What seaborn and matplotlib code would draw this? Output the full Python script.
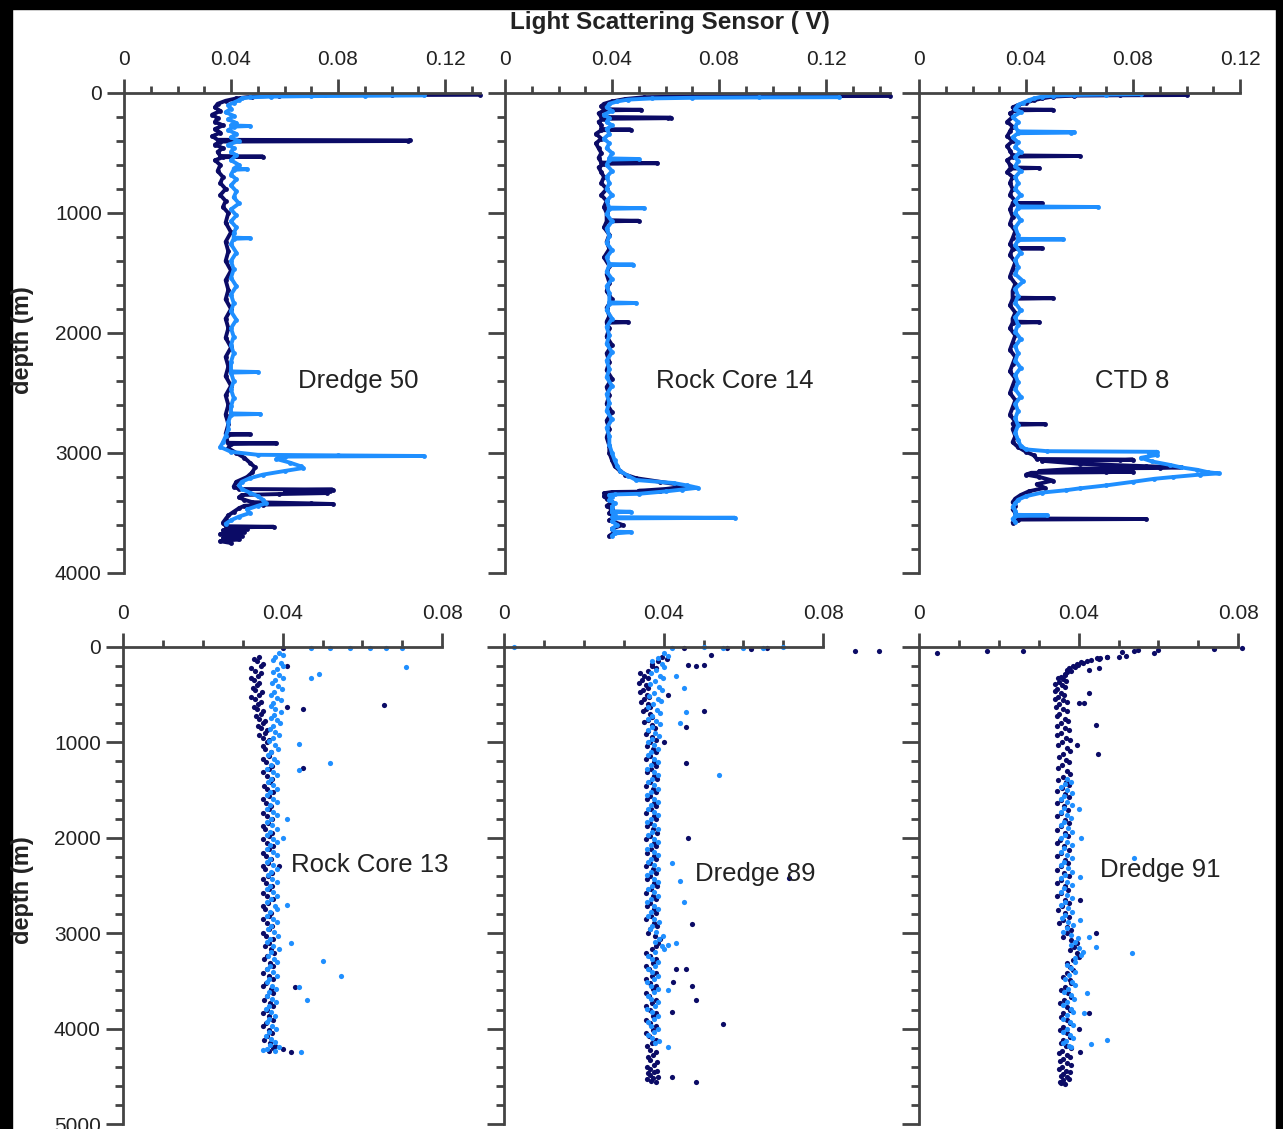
import numpy as np
import pandas as pd
import matplotlib.pyplot as plt
from matplotlib.patches import Rectangle
from matplotlib.ticker import MultipleLocator, FuncFormatter
import seaborn as sns

sns.set_theme(style='white')
plt.rcParams['font.family'] = ['Liberation Sans', 'DejaVu Sans']

DARK = '#0b0b66'
LIGHT = '#1f8fff'

# ---------------- top row: profiles (depth m, sensor V) ----------------
# Dredge 50
d50_dark_z = [15, 17, 19, 22, 30, 45, 65, 90, 120, 150, 180, 210, 240, 270, 300, 330, 360, 390, 395, 400, 405,
              430, 460, 490, 525, 530, 535, 560, 600, 650, 700, 750, 800, 850, 900, 950, 1000, 1080, 1160, 1240,
              1320, 1400, 1480, 1560, 1640, 1720, 1800, 1880, 1960, 2040, 2120, 2200, 2280, 2360, 2440, 2520,
              2600, 2680, 2760, 2840, 2845, 2850, 2880, 2915, 2920, 2925, 2960, 3000, 3040, 3080, 3120, 3160,
              3200, 3240, 3280, 3300, 3305, 3310, 3318, 3326, 3334, 3342, 3350, 3370, 3390, 3410, 3420, 3425,
              3430, 3440, 3460, 3490, 3520, 3550, 3580, 3610, 3615, 3620, 3630, 3645, 3660, 3675, 3690, 3705,
              3720, 3735, 3750]
d50_dark_v = [0.133, 0.100, 0.075, 0.058, 0.048, 0.042, 0.038, 0.035, 0.034, 0.036, 0.033, 0.035, 0.034, 0.037,
              0.034, 0.036, 0.033, 0.035, 0.107, 0.106, 0.036, 0.034, 0.037, 0.035, 0.036, 0.052, 0.037, 0.034,
              0.036, 0.035, 0.037, 0.036, 0.038, 0.036, 0.038, 0.037, 0.039, 0.038, 0.040, 0.038, 0.039, 0.038,
              0.040, 0.038, 0.039, 0.038, 0.040, 0.038, 0.039, 0.038, 0.040, 0.038, 0.039, 0.038, 0.040, 0.038,
              0.039, 0.038, 0.039, 0.038, 0.047, 0.039, 0.038, 0.039, 0.057, 0.040, 0.039, 0.042, 0.045, 0.047,
              0.049, 0.048, 0.046, 0.042, 0.041, 0.043, 0.078, 0.060, 0.077, 0.062, 0.076, 0.058, 0.044, 0.043,
              0.045, 0.048, 0.070, 0.078, 0.052, 0.045, 0.043, 0.041, 0.039, 0.038, 0.037, 0.038, 0.056, 0.040,
              0.046, 0.037, 0.045, 0.036, 0.044, 0.037, 0.043, 0.036, 0.040]
d50_light_z = [20, 23, 26, 30, 36, 45, 60, 80, 100, 130, 160, 190, 220, 250, 270, 275, 280, 310, 340, 370, 400,
               430, 460, 490, 520, 560, 600, 630, 635, 640, 680, 720, 770, 820, 870, 920, 970, 1020, 1070, 1120,
               1170, 1205, 1210, 1215, 1260, 1330, 1400, 1470, 1540, 1610, 1680, 1750, 1820, 1890, 1960, 2030,
               2100, 2170, 2240, 2320, 2325, 2330, 2400, 2470, 2540, 2610, 2670, 2675, 2680, 2740, 2800, 2860,
               2910, 2950, 2990, 3015, 3020, 3025, 3030, 3050, 3080, 3110, 3125, 3150, 3180, 3210, 3240, 3270,
               3300, 3330, 3360, 3390, 3420, 3440, 3470, 3500, 3530, 3560, 3590]
d50_light_v = [0.112, 0.090, 0.070, 0.055, 0.047, 0.044, 0.043, 0.041, 0.039, 0.040, 0.038, 0.041, 0.039, 0.042,
               0.040, 0.047, 0.041, 0.039, 0.042, 0.040, 0.043, 0.039, 0.041, 0.040, 0.042, 0.040, 0.043, 0.041,
               0.046, 0.041, 0.040, 0.042, 0.040, 0.042, 0.041, 0.043, 0.040, 0.042, 0.040, 0.042, 0.041, 0.041,
               0.047, 0.041, 0.040, 0.042, 0.040, 0.041, 0.040, 0.042, 0.040, 0.041, 0.040, 0.042, 0.040, 0.041,
               0.040, 0.041, 0.040, 0.040, 0.050, 0.040, 0.041, 0.040, 0.041, 0.040, 0.040, 0.051, 0.040, 0.039,
               0.039, 0.038, 0.037, 0.036, 0.040, 0.050, 0.080, 0.112, 0.060, 0.057, 0.062, 0.066, 0.067, 0.060,
               0.052, 0.047, 0.044, 0.043, 0.044, 0.047, 0.050, 0.052, 0.053, 0.050, 0.046, 0.047, 0.043, 0.040,
               0.038]

# Rock Core 14
rc14_dark_z = [25, 27, 29, 35, 50, 70, 90, 110, 135, 140, 145, 170, 200, 205, 210, 215, 240, 270, 300, 305, 310,
               340, 380, 420, 460, 500, 540, 580, 585, 590, 620, 660, 700, 750, 800, 850, 900, 950, 1000, 1060,
               1065, 1070, 1120, 1180, 1240, 1300, 1370, 1440, 1510, 1580, 1650, 1720, 1790, 1860, 1905, 1910,
               1915, 1960, 2030, 2100, 2170, 2240, 2310, 2380, 2450, 2520, 2590, 2660, 2730, 2800, 2870, 2940,
               3000, 3060, 3110, 3150, 3180, 3210, 3240, 3260, 3280, 3300, 3315, 3320, 3325, 3335, 3345, 3360,
               3380, 3410, 3440, 3470, 3500, 3530, 3560, 3600, 3630, 3660, 3690]
rc14_dark_v = [0.144, 0.100, 0.070, 0.052, 0.045, 0.040, 0.037, 0.036, 0.037, 0.051, 0.037, 0.035, 0.036, 0.062,
               0.061, 0.037, 0.035, 0.036, 0.036, 0.047, 0.036, 0.034, 0.036, 0.034, 0.035, 0.036, 0.035, 0.036,
               0.057, 0.037, 0.035, 0.036, 0.037, 0.036, 0.038, 0.036, 0.038, 0.037, 0.038, 0.038, 0.050, 0.038,
               0.037, 0.039, 0.038, 0.039, 0.037, 0.039, 0.038, 0.039, 0.038, 0.040, 0.038, 0.039, 0.038, 0.046,
               0.038, 0.039, 0.038, 0.040, 0.038, 0.039, 0.038, 0.040, 0.038, 0.039, 0.038, 0.040, 0.038, 0.039,
               0.038, 0.039, 0.039, 0.040, 0.041, 0.043, 0.045, 0.049, 0.058, 0.064, 0.067, 0.060, 0.050, 0.058,
               0.040, 0.037, 0.039, 0.037, 0.038, 0.040, 0.038, 0.040, 0.039, 0.041, 0.039, 0.044, 0.040, 0.041,
               0.039]
rc14_light_z = [35, 37, 40, 45, 55, 70, 90, 120, 150, 180, 210, 240, 270, 300, 340, 380, 420, 460, 500, 545, 550,
                555, 600, 650, 700, 750, 800, 850, 900, 955, 960, 965, 1010, 1070, 1130, 1190, 1250, 1310, 1370,
                1425, 1430, 1435, 1490, 1550, 1610, 1670, 1745, 1750, 1755, 1810, 1880, 1950, 2020, 2090, 2160,
                2230, 2300, 2370, 2440, 2510, 2580, 2650, 2720, 2790, 2860, 2930, 3000, 3060, 3110, 3150, 3190,
                3225, 3250, 3270, 3290, 3305, 3320, 3340, 3345, 3350, 3365, 3390, 3420, 3450, 3485, 3490, 3495,
                3520, 3535, 3540, 3545, 3570, 3600, 3630, 3655, 3660, 3670, 3690]
rc14_light_v = [0.125, 0.095, 0.070, 0.055, 0.046, 0.042, 0.039, 0.038, 0.040, 0.037, 0.039, 0.038, 0.040, 0.038,
                0.039, 0.037, 0.039, 0.038, 0.040, 0.039, 0.050, 0.039, 0.038, 0.040, 0.038, 0.039, 0.038, 0.040,
                0.038, 0.039, 0.052, 0.039, 0.038, 0.040, 0.038, 0.039, 0.038, 0.040, 0.038, 0.039, 0.048, 0.039,
                0.038, 0.040, 0.038, 0.039, 0.039, 0.049, 0.039, 0.038, 0.040, 0.038, 0.039, 0.038, 0.040, 0.038,
                0.039, 0.038, 0.040, 0.038, 0.039, 0.038, 0.040, 0.038, 0.039, 0.039, 0.040, 0.041, 0.042, 0.043,
                0.046, 0.049, 0.063, 0.068, 0.072, 0.066, 0.060, 0.050, 0.041, 0.039, 0.040, 0.039, 0.041, 0.040,
                0.040, 0.047, 0.040, 0.041, 0.040, 0.086, 0.041, 0.040, 0.042, 0.040, 0.041, 0.047, 0.041, 0.040]

# CTD 8
ctd8_dark_z = [17, 19, 22, 30, 45, 60, 80, 100, 120, 135, 140, 145, 170, 200, 240, 280, 320, 360, 400, 440, 480,
               520, 525, 530, 560, 600, 620, 625, 630, 660, 700, 750, 800, 850, 900, 915, 920, 925, 970, 1030,
               1090, 1150, 1210, 1260, 1290, 1295, 1300, 1350, 1410, 1470, 1530, 1590, 1650, 1705, 1710, 1715,
               1770, 1830, 1880, 1905, 1910, 1915, 1960, 2020, 2080, 2140, 2200, 2260, 2320, 2380, 2440, 2500,
               2560, 2620, 2680, 2740, 2755, 2760, 2765, 2800, 2860, 2910, 2950, 2990, 3020, 3050, 3055, 3060,
               3065, 3090, 3110, 3120, 3125, 3130, 3150, 3155, 3160, 3165, 3180, 3200, 3230, 3260, 3290, 3320,
               3350, 3380, 3410, 3440, 3470, 3500, 3530, 3545, 3550, 3555, 3570, 3580]
ctd8_dark_v = [0.100, 0.075, 0.058, 0.050, 0.046, 0.043, 0.040, 0.037, 0.035, 0.036, 0.050, 0.036, 0.034, 0.035,
               0.033, 0.035, 0.034, 0.033, 0.035, 0.033, 0.034, 0.035, 0.060, 0.035, 0.033, 0.034, 0.035, 0.045,
               0.034, 0.033, 0.035, 0.034, 0.035, 0.034, 0.036, 0.035, 0.046, 0.035, 0.034, 0.035, 0.034, 0.036,
               0.035, 0.034, 0.035, 0.046, 0.035, 0.034, 0.036, 0.035, 0.034, 0.036, 0.035, 0.035, 0.050, 0.035,
               0.034, 0.036, 0.035, 0.035, 0.045, 0.035, 0.034, 0.036, 0.035, 0.034, 0.036, 0.035, 0.034, 0.036,
               0.035, 0.034, 0.036, 0.035, 0.034, 0.036, 0.035, 0.047, 0.036, 0.035, 0.036, 0.035, 0.037, 0.040,
               0.043, 0.044, 0.080, 0.075, 0.046, 0.060, 0.085, 0.098, 0.090, 0.060, 0.045, 0.080, 0.070, 0.042,
               0.040, 0.045, 0.050, 0.044, 0.047, 0.041, 0.038, 0.036, 0.035, 0.036, 0.035, 0.036, 0.037, 0.036,
               0.085, 0.037, 0.036, 0.035]
ctd8_light_z = [10, 13, 16, 22, 30, 45, 60, 80, 100, 130, 160, 200, 240, 280, 320, 325, 330, 335, 370, 410, 450,
                490, 530, 570, 610, 650, 700, 750, 800, 850, 900, 945, 950, 955, 1000, 1060, 1120, 1180, 1215, 1220,
                1225, 1270, 1330, 1390, 1450, 1510, 1570, 1630, 1690, 1750, 1810, 1870, 1930, 1990, 2050, 2110,
                2170, 2230, 2290, 2350, 2410, 2470, 2530, 2590, 2650, 2710, 2770, 2830, 2890, 2940, 2970, 2985,
                2990, 3000, 3015, 3040, 3070, 3100, 3120, 3140, 3160, 3170, 3180, 3200, 3215, 3240, 3270, 3295,
                3310, 3330, 3360, 3390, 3420, 3450, 3480, 3515, 3520, 3525, 3550, 3575]
ctd8_light_v = [0.083, 0.070, 0.058, 0.050, 0.046, 0.043, 0.041, 0.039, 0.037, 0.036, 0.038, 0.035, 0.037, 0.036,
                0.037, 0.058, 0.057, 0.037, 0.035, 0.037, 0.036, 0.038, 0.036, 0.037, 0.036, 0.038, 0.036, 0.037,
                0.036, 0.038, 0.036, 0.037, 0.067, 0.037, 0.036, 0.038, 0.036, 0.037, 0.037, 0.054, 0.037, 0.036,
                0.038, 0.036, 0.037, 0.036, 0.039, 0.036, 0.037, 0.036, 0.038, 0.036, 0.037, 0.036, 0.038, 0.036,
                0.037, 0.036, 0.038, 0.036, 0.037, 0.036, 0.038, 0.036, 0.037, 0.036, 0.037, 0.036, 0.037, 0.038,
                0.040, 0.048, 0.089, 0.086, 0.089, 0.083, 0.087, 0.094, 0.098, 0.104, 0.108, 0.112, 0.105, 0.095,
                0.088, 0.080, 0.070, 0.060, 0.055, 0.046, 0.040, 0.037, 0.036, 0.035, 0.036, 0.036, 0.048, 0.036,
                0.035, 0.036]

# ---------------- bottom row: bottle/scan points ----------------
# Rock Core 13
rc13_dark_z = [100, 150, 200, 250, 300, 350, 400, 450, 500, 550, 600, 650, 700, 750, 800, 850, 900, 950, 1000,
               1070, 1140, 1210, 1280, 1350, 1420, 1490, 1560, 1630, 1700, 1770, 1840, 1910, 1980, 2050, 2120,
               2190, 2260, 2330, 2400, 2470, 2540, 2610, 2680, 2750, 2820, 2890, 2960, 3030, 3100, 3170, 3240,
               3310, 3380, 3450, 3520, 3590, 3660, 3730, 3800, 3870, 3940, 4010, 4080, 4150, 4200, 4230,
               10, 200, 610, 630, 650, 1270, 2300, 3560, 4215, 4250]
rc13_dark_v = [0.0340, 0.0335, 0.0345, 0.0330, 0.0338, 0.0328, 0.0335, 0.0330, 0.0340, 0.0332, 0.0338, 0.0335,
               0.0345, 0.0340, 0.0350, 0.0345, 0.0355, 0.0350, 0.0360, 0.0355, 0.0365, 0.0358, 0.0365, 0.0360,
               0.0368, 0.0360, 0.0365, 0.0358, 0.0366, 0.0360, 0.0364, 0.0357, 0.0365, 0.0360, 0.0367, 0.0358,
               0.0364, 0.0356, 0.0363, 0.0358, 0.0366, 0.0360, 0.0364, 0.0357, 0.0365, 0.0360, 0.0366, 0.0358,
               0.0365, 0.0372, 0.0362, 0.0368, 0.0360, 0.0366, 0.0358, 0.0370, 0.0362, 0.0368, 0.0360, 0.0367,
               0.0358, 0.0366, 0.0362, 0.0368, 0.0375, 0.0365,
               0.0400, 0.0410, 0.0655, 0.0410, 0.0450, 0.0450, 0.0390, 0.0430, 0.0400, 0.0420]
rc13_dark_z2 = [125, 175, 225, 275, 325, 375, 425, 475, 525, 575,
                625, 675, 725, 775, 825, 875, 925, 975, 1035, 1105,
                1175, 1245, 1315, 1385, 1455, 1525, 1595, 1665, 1735, 1805,
                1875, 1945, 2015, 2085, 2155, 2225, 2295, 2365, 2435, 2505,
                2575, 2645, 2715, 2785, 2855, 2925, 2995, 3065, 3135, 3205,
                3275, 3345, 3415, 3485, 3555, 3625, 3695, 3765, 3835, 3905,
                3975, 4045, 4115, 4180]
rc13_dark_v2 = [0.0328, 0.0350, 0.0322, 0.0345, 0.0320, 0.0342, 0.0325, 0.0348, 0.0322, 0.0345,
                0.0328, 0.0350, 0.0333, 0.0355, 0.0338, 0.0360, 0.0342, 0.0365, 0.0350, 0.0372,
                0.0352, 0.0374, 0.0351, 0.0373, 0.0353, 0.0375, 0.0350, 0.0372, 0.0352, 0.0374,
                0.0350, 0.0373, 0.0352, 0.0375, 0.0350, 0.0372, 0.0351, 0.0374, 0.0350, 0.0373,
                0.0352, 0.0375, 0.0350, 0.0372, 0.0352, 0.0374, 0.0351, 0.0376, 0.0355, 0.0378,
                0.0354, 0.0376, 0.0352, 0.0375, 0.0351, 0.0377, 0.0353, 0.0376, 0.0352, 0.0375,
                0.0350, 0.0374, 0.0353, 0.0380]
rc13_light_z = [60, 110, 170, 230, 290, 350, 410, 470, 530, 590, 650, 710, 770, 830, 890, 950, 1030, 1100, 1170,
                1240, 1310, 1380, 1450, 1520, 1590, 1660, 1730, 1800, 1870, 1940, 2010, 2080, 2150, 2220, 2290,
                2360, 2430, 2500, 2570, 2640, 2710, 2780, 2850, 2920, 2990, 3060, 3130, 3200, 3270, 3340, 3410,
                3480, 3550, 3620, 3690, 3760, 3830, 3900, 3970, 4040, 4110, 4170, 4210, 4240,
                8, 10, 6, 12, 9, 7, 210, 285, 325, 1015, 1215, 1290, 3290, 3450, 3700, 3560, 4250, 2700, 2000,
                1800, 3100]
rc13_light_v = [0.0390, 0.0380, 0.0395, 0.0385, 0.0392, 0.0380, 0.0388, 0.0378, 0.0385, 0.0375, 0.0382, 0.0378,
                0.0385, 0.0376, 0.0382, 0.0375, 0.0380, 0.0372, 0.0378, 0.0370, 0.0377, 0.0370, 0.0376, 0.0369,
                0.0375, 0.0368, 0.0376, 0.0370, 0.0374, 0.0368, 0.0376, 0.0369, 0.0375, 0.0368, 0.0376, 0.0370,
                0.0374, 0.0368, 0.0377, 0.0370, 0.0380, 0.0369, 0.0376, 0.0370, 0.0378, 0.0369, 0.0376, 0.0370,
                0.0378, 0.0368, 0.0375, 0.0367, 0.0374, 0.0366, 0.0373, 0.0365, 0.0372, 0.0366, 0.0373, 0.0365,
                0.0372, 0.0368, 0.0360, 0.0380,
                0.0470, 0.0520, 0.0570, 0.0620, 0.0660, 0.0700, 0.0710, 0.0490, 0.0470, 0.0440, 0.0520, 0.0440,
                0.0500, 0.0547, 0.0460, 0.0440, 0.0445, 0.0410, 0.0400, 0.0410, 0.0420]
rc13_light_z2 = [85, 140, 200, 260, 320, 380, 440, 500, 560, 620,
                 680, 740, 800, 860, 920, 990, 1065, 1135, 1205, 1275,
                 1345, 1415, 1485, 1555, 1625, 1695, 1765, 1835, 1905, 1975,
                 2045, 2115, 2185, 2255, 2325, 2395, 2465, 2535, 2605, 2675,
                 2745, 2815, 2885, 2955, 3025, 3095, 3165, 3235, 3305, 3375,
                 3445, 3515, 3585, 3655, 3725, 3795, 3865, 3935, 4005, 4075,
                 4140, 4195, 4225]
rc13_light_v2 = [0.0400, 0.0375, 0.0402, 0.0376, 0.0400, 0.0374, 0.0398, 0.0372, 0.0396, 0.0372,
                 0.0395, 0.0370, 0.0394, 0.0368, 0.0390, 0.0366, 0.0388, 0.0364, 0.0386, 0.0362,
                 0.0387, 0.0363, 0.0385, 0.0362, 0.0386, 0.0361, 0.0385, 0.0362, 0.0387, 0.0361,
                 0.0385, 0.0362, 0.0386, 0.0361, 0.0385, 0.0363, 0.0386, 0.0362, 0.0387, 0.0361,
                 0.0386, 0.0362, 0.0385, 0.0363, 0.0388, 0.0362, 0.0390, 0.0364, 0.0386, 0.0361,
                 0.0385, 0.0360, 0.0384, 0.0360, 0.0383, 0.0359, 0.0382, 0.0360, 0.0383, 0.0358,
                 0.0382, 0.0390, 0.0350]

# Dredge 89
d89_dark_z = [100, 150, 200, 250, 300, 350, 400, 450, 500, 550, 600, 650, 700, 760, 820, 880, 940, 1000, 1070,
              1140, 1210, 1280, 1350, 1420, 1490, 1560, 1630, 1700, 1770, 1840, 1910, 1980, 2050, 2120, 2190, 2260,
              2330, 2400, 2470, 2540, 2610, 2680, 2750, 2820, 2890, 2960, 3030, 3100, 3170, 3240, 3310, 3380,
              3450, 3520, 3590, 3660, 3730, 3800, 3870, 3940, 4010, 4080, 4150, 4220, 4280, 4330, 4380, 4420,
              4460, 4490, 4520, 4545,
              40, 40, 10, 15, 20, 12, 85, 190, 195, 190, 670, 840, 1215, 2000, 2420, 2900, 3375, 3380, 3510, 3550,
              3700, 3825, 3950, 4510, 4560, 500, 1000]
d89_dark_v = [0.0395, 0.0385, 0.0370, 0.0360, 0.0350, 0.0345, 0.0355, 0.0348, 0.0358, 0.0350, 0.0362, 0.0355,
              0.0365, 0.0360, 0.0370, 0.0362, 0.0372, 0.0365, 0.0374, 0.0366, 0.0375, 0.0368, 0.0376, 0.0367,
              0.0374, 0.0366, 0.0375, 0.0368, 0.0376, 0.0367, 0.0374, 0.0366, 0.0375, 0.0368, 0.0376, 0.0366,
              0.0374, 0.0367, 0.0375, 0.0368, 0.0374, 0.0366, 0.0375, 0.0368, 0.0376, 0.0367, 0.0378, 0.0385,
              0.0372, 0.0366, 0.0374, 0.0364, 0.0372, 0.0365, 0.0373, 0.0364, 0.0372, 0.0365, 0.0374, 0.0366,
              0.0373, 0.0364, 0.0372, 0.0365, 0.0374, 0.0366, 0.0375, 0.0367, 0.0376, 0.0366, 0.0374, 0.0368,
              0.0880, 0.0940, 0.0450, 0.0560, 0.0620, 0.0660, 0.0520, 0.0460, 0.0480, 0.0500, 0.0500, 0.0456,
              0.0456, 0.0460, 0.0715, 0.0470, 0.0430, 0.0456, 0.0424, 0.0470, 0.0480, 0.0420, 0.0550, 0.0420,
              0.0480, 0.0410, 0.0400]
d89_dark_z2 = [125, 175, 225, 275, 325, 375, 425, 475, 525, 575,
               625, 675, 730, 790, 850, 910, 970, 1035, 1105, 1175,
               1245, 1315, 1385, 1455, 1525, 1595, 1665, 1735, 1805, 1875,
               1945, 2015, 2085, 2155, 2225, 2295, 2365, 2435, 2505, 2575,
               2645, 2715, 2785, 2855, 2925, 2995, 3065, 3135, 3205, 3275,
               3345, 3415, 3485, 3555, 3625, 3695, 3765, 3835, 3905, 3975,
               4045, 4115, 4185, 4250, 4300, 4350, 4400, 4440, 4470, 4505,
               4530, 4555]
d89_dark_v2 = [0.0408, 0.0372, 0.0380, 0.0342, 0.0362, 0.0338, 0.0360, 0.0340, 0.0364, 0.0343,
               0.0366, 0.0348, 0.0372, 0.0352, 0.0378, 0.0355, 0.0380, 0.0358, 0.0382, 0.0357,
               0.0380, 0.0358, 0.0383, 0.0357, 0.0381, 0.0358, 0.0382, 0.0356, 0.0380, 0.0358,
               0.0383, 0.0357, 0.0381, 0.0358, 0.0382, 0.0356, 0.0380, 0.0358, 0.0383, 0.0357,
               0.0381, 0.0358, 0.0382, 0.0356, 0.0384, 0.0360, 0.0392, 0.0380, 0.0357, 0.0380,
               0.0356, 0.0381, 0.0357, 0.0380, 0.0356, 0.0382, 0.0357, 0.0380, 0.0356, 0.0381,
               0.0357, 0.0380, 0.0358, 0.0382, 0.0360, 0.0384, 0.0358, 0.0383, 0.0361, 0.0385,
               0.0359, 0.0380]
d89_light_z = [60, 120, 180, 240, 300, 360, 420, 480, 540, 600, 660, 720, 780, 840, 900, 960, 1030, 1100, 1170,
               1240, 1310, 1380, 1450, 1520, 1590, 1660, 1730, 1800, 1870, 1940, 2010, 2080, 2150, 2220, 2290,
               2360, 2430, 2500, 2570, 2640, 2710, 2780, 2850, 2920, 2990, 3060, 3130, 3200, 3270, 3340, 3410,
               3480, 3550, 3620, 3690, 3760, 3830, 3900, 3970, 4040, 4100, 4150,
               0, 8, 5, 10, 6, 8, 5, 300, 430, 680, 800, 1340, 2260, 2450, 2670, 3100, 3120, 4190, 3600]
d89_light_v = [0.0400, 0.0385, 0.0395, 0.0380, 0.0390, 0.0378, 0.0388, 0.0376, 0.0385, 0.0374, 0.0383, 0.0372,
               0.0380, 0.0371, 0.0378, 0.0370, 0.0377, 0.0369, 0.0376, 0.0368, 0.0375, 0.0370, 0.0376, 0.0368,
               0.0375, 0.0369, 0.0376, 0.0368, 0.0375, 0.0370, 0.0377, 0.0368, 0.0375, 0.0369, 0.0376, 0.0368,
               0.0375, 0.0370, 0.0376, 0.0368, 0.0375, 0.0369, 0.0376, 0.0370, 0.0380, 0.0388, 0.0395, 0.0378,
               0.0372, 0.0378, 0.0370, 0.0377, 0.0369, 0.0376, 0.0368, 0.0378, 0.0370, 0.0376, 0.0369, 0.0375,
               0.0370, 0.0378,
               0.0025, 0.0420, 0.0500, 0.0550, 0.0600, 0.0650, 0.0700, 0.0430, 0.0450, 0.0456, 0.0440, 0.0540,
               0.0420, 0.0440, 0.0450, 0.0430, 0.0410, 0.0410, 0.0410]
d89_light_z2 = [90, 150, 210, 270, 330, 390, 450, 510, 570, 630,
                690, 750, 810, 870, 930, 995, 1065, 1135, 1205, 1275,
                1345, 1415, 1485, 1555, 1625, 1695, 1765, 1835, 1905, 1975,
                2045, 2115, 2185, 2255, 2325, 2395, 2465, 2535, 2605, 2675,
                2745, 2815, 2885, 2955, 3025, 3095, 3165, 3235, 3305, 3375,
                3445, 3515, 3585, 3655, 3725, 3795, 3865, 3935, 4005, 4070,
                4125]
d89_light_v2 = [0.0410, 0.0372, 0.0402, 0.0368, 0.0398, 0.0366, 0.0396, 0.0364, 0.0394, 0.0362,
                0.0392, 0.0362, 0.0390, 0.0360, 0.0388, 0.0360, 0.0387, 0.0360, 0.0386, 0.0359,
                0.0386, 0.0360, 0.0385, 0.0359, 0.0386, 0.0360, 0.0387, 0.0359, 0.0385, 0.0360,
                0.0386, 0.0359, 0.0385, 0.0360, 0.0387, 0.0359, 0.0386, 0.0360, 0.0385, 0.0359,
                0.0386, 0.0360, 0.0388, 0.0365, 0.0398, 0.0378, 0.0400, 0.0362, 0.0386, 0.0360,
                0.0385, 0.0359, 0.0386, 0.0360, 0.0387, 0.0359, 0.0385, 0.0360, 0.0386, 0.0362,
                0.0388]

# Dredge 91
d91_dark_z = [115, 135, 155, 175, 200, 225, 250, 280, 310, 340, 370, 400, 440, 480, 520, 560, 600, 650, 700, 750,
              800, 850, 900, 950, 1000, 1060, 1120, 1180, 1240, 1300, 1360, 1420, 1480, 1540, 1600, 1670, 1740,
              1810, 1880, 1950, 2020, 2090, 2160, 2230, 2300, 2370, 2440, 2510, 2580, 2650, 2720, 2790, 2860,
              2930, 3000, 3070, 3140, 3210, 3280, 3350, 3420, 3490, 3560, 3630, 3700, 3770, 3840, 3910, 3980,
              4050, 4120, 4180, 4230, 4280, 4320, 4360, 4400, 4440, 4480, 4510, 4540, 4570,
              65, 40, 40, 50, 40, 30, 60, 30, 20, 15, 100, 95, 105, 115, 220, 240, 480, 590, 590, 820, 1120, 1030,
              2998, 2650, 3840, 4005, 4245]
d91_dark_v = [0.0445, 0.0430, 0.0405, 0.0395, 0.0385, 0.0375, 0.0380, 0.0365, 0.0355, 0.0362, 0.0350, 0.0358,
              0.0345, 0.0355, 0.0348, 0.0360, 0.0350, 0.0362, 0.0352, 0.0365, 0.0355, 0.0366, 0.0356, 0.0368,
              0.0358, 0.0370, 0.0360, 0.0368, 0.0358, 0.0370, 0.0360, 0.0368, 0.0358, 0.0366, 0.0356, 0.0364,
              0.0355, 0.0365, 0.0356, 0.0366, 0.0354, 0.0364, 0.0355, 0.0366, 0.0356, 0.0364, 0.0355, 0.0365,
              0.0357, 0.0366, 0.0358, 0.0367, 0.0360, 0.0370, 0.0372, 0.0380, 0.0388, 0.0395, 0.0385, 0.0378,
              0.0370, 0.0378, 0.0366, 0.0374, 0.0364, 0.0372, 0.0362, 0.0370, 0.0362, 0.0371, 0.0360, 0.0368,
              0.0358, 0.0370, 0.0360, 0.0372, 0.0358, 0.0368, 0.0360, 0.0370, 0.0362, 0.0355,
              0.0045, 0.0170, 0.0260, 0.0510, 0.0540, 0.0550, 0.0590, 0.0600, 0.0740, 0.0810, 0.0500, 0.0520,
              0.0470, 0.0454, 0.0450, 0.0426, 0.0426, 0.0400, 0.0414, 0.0444, 0.0449, 0.0396, 0.0444, 0.0404,
              0.0426, 0.0401, 0.0404]
d91_dark_z2 = [105, 125, 145, 165, 188, 212, 238, 265, 295, 325,
               355, 385, 420, 460, 500, 540, 580, 625, 675, 725,
               775, 825, 875, 925, 975, 1030, 1090, 1150, 1210, 1270,
               1330, 1390, 1450, 1510, 1570, 1635, 1705, 1775, 1845, 1915,
               1985, 2055, 2125, 2195, 2265, 2335, 2405, 2475, 2545, 2615,
               2685, 2755, 2825, 2895, 2965, 3035, 3105, 3175, 3245, 3315,
               3385, 3455, 3525, 3595, 3665, 3735, 3805, 3875, 3945, 4015,
               4085, 4150, 4205, 4255, 4300, 4340, 4380, 4420, 4460, 4495,
               4525, 4555, 4585]
d91_dark_v2 = [0.0470, 0.0452, 0.0420, 0.0410, 0.0398, 0.0392, 0.0370, 0.0372, 0.0365, 0.0348,
               0.0368, 0.0342, 0.0366, 0.0340, 0.0364, 0.0342, 0.0370, 0.0343, 0.0372, 0.0345,
               0.0374, 0.0346, 0.0376, 0.0347, 0.0378, 0.0348, 0.0378, 0.0350, 0.0377, 0.0349,
               0.0378, 0.0348, 0.0376, 0.0347, 0.0375, 0.0346, 0.0374, 0.0347, 0.0375, 0.0346,
               0.0374, 0.0345, 0.0375, 0.0346, 0.0374, 0.0347, 0.0375, 0.0346, 0.0374, 0.0347,
               0.0375, 0.0348, 0.0377, 0.0350, 0.0380, 0.0362, 0.0396, 0.0378, 0.0402, 0.0370,
               0.0386, 0.0360, 0.0382, 0.0356, 0.0380, 0.0354, 0.0379, 0.0355, 0.0378, 0.0354,
               0.0379, 0.0355, 0.0380, 0.0352, 0.0378, 0.0354, 0.0380, 0.0352, 0.0379, 0.0356,
               0.0376, 0.0354, 0.0366]
d91_light_z = [1380, 1440, 1500, 1560, 1620, 1690, 1760, 1830, 1900, 1970, 2040, 2110, 2180, 2250, 2320, 2390,
               2460, 2530, 2600, 2670, 2740, 2810, 2880, 2950, 3020, 3090, 3160, 3230, 3300, 3370, 3440, 3510,
               3580, 3650, 3720, 3790, 3860, 3930, 4000, 4070, 4130, 4180,
               2210, 2410, 2860, 3040, 3145, 3208, 3630, 3840, 4120, 4160, 1700, 2000]
d91_light_v = [0.0372, 0.0365, 0.0372, 0.0364, 0.0371, 0.0363, 0.0372, 0.0364, 0.0373, 0.0365, 0.0372, 0.0363,
               0.0371, 0.0364, 0.0373, 0.0365, 0.0372, 0.0364, 0.0371, 0.0365, 0.0373, 0.0366, 0.0374, 0.0372,
               0.0382, 0.0392, 0.0400, 0.0405, 0.0390, 0.0382, 0.0376, 0.0384, 0.0374, 0.0382, 0.0372, 0.0380,
               0.0371, 0.0379, 0.0370, 0.0378, 0.0368, 0.0375,
               0.0540, 0.0404, 0.0404, 0.0426, 0.0444, 0.0534, 0.0420, 0.0414, 0.0471, 0.0431, 0.0400, 0.0405]
d91_light_z2 = [1410, 1470, 1530, 1590, 1655, 1725, 1795, 1865, 1935, 2005,
                2075, 2145, 2215, 2285, 2355, 2425, 2495, 2565, 2635, 2705,
                2775, 2845, 2915, 2985, 3055, 3125, 3195, 3265, 3335, 3405,
                3475, 3545, 3615, 3685, 3755, 3825, 3895, 3965, 4035, 4100,
                4155, 4190]
d91_light_v2 = [0.0382, 0.0356, 0.0383, 0.0357, 0.0384, 0.0356, 0.0382, 0.0357, 0.0384, 0.0356,
                0.0383, 0.0357, 0.0384, 0.0356, 0.0383, 0.0357, 0.0384, 0.0356, 0.0383, 0.0357,
                0.0384, 0.0358, 0.0386, 0.0362, 0.0398, 0.0382, 0.0412, 0.0392, 0.0372, 0.0392,
                0.0366, 0.0390, 0.0364, 0.0388, 0.0362, 0.0387, 0.0361, 0.0386, 0.0360, 0.0385,
                0.0362, 0.0380]

W, H = 1283, 1129
fig = plt.figure(figsize=(W / 100, H / 100), dpi=100, facecolor='white')


def px_axes(left, top, width, height):
    return fig.add_axes([left / W, 1 - (top + height) / H, width / W, height / H])


def style(ax, xmax, ymax, ylabels):
    ax.set_xlim(0, xmax)
    ax.set_ylim(ymax, 0)
    ax.set_facecolor('none')
    for side in ['right', 'bottom']:
        ax.spines[side].set_visible(False)
    for side in ['left', 'top']:
        ax.spines[side].set_color('#444444')
        ax.spines[side].set_linewidth(2)
    ax.xaxis.tick_top()
    ax.xaxis.set_major_locator(MultipleLocator(0.04))
    ax.xaxis.set_minor_locator(MultipleLocator(0.01))
    ax.xaxis.set_major_formatter(FuncFormatter(lambda v, p: '0' if abs(v) < 1e-9 else f'{v:.2f}'))
    ax.yaxis.set_major_locator(MultipleLocator(1000))
    ax.yaxis.set_minor_locator(MultipleLocator(200))
    ax.tick_params(axis='x', which='major', direction='out', length=10, width=2, color='#444444',
                   labelsize=15, labelcolor='#222222', pad=7, top=True, bottom=False)
    ax.tick_params(axis='x', which='minor', direction='out', length=5, width=2, color='#444444',
                   top=True, bottom=False)
    ax.tick_params(axis='y', which='major', direction='out', length=12, width=2, color='#444444',
                   labelsize=15, labelcolor='#222222', pad=4, left=True, labelleft=ylabels)
    ax.tick_params(axis='y', which='minor', direction='out', length=6, width=2, color='#444444', left=True)
    ax.set_xlabel('')
    ax.set_ylabel('')


def profile(ax, z, v, color):
    sns.lineplot(x=v, y=z, sort=False, estimator=None, color=color, lw=2.8, marker='o', markersize=3.5,
                 markeredgewidth=0, ax=ax, clip_on=False)


def dots(ax, z, v, color):
    sns.scatterplot(x=v, y=z, color=color, s=14, linewidth=0, ax=ax, clip_on=False)


top_panels = [
    (124, 0.133, d50_dark_z, d50_dark_v, d50_light_z, d50_light_v, 'Dredge 50', 358, 381, True),
    (505, 0.144, rc14_dark_z, rc14_dark_v, rc14_light_z, rc14_light_v, 'Rock Core 14', 735, 381, False),
    (919, 0.120, ctd8_dark_z, ctd8_dark_v, ctd8_light_z, ctd8_light_v, 'CTD 8', 1132, 381, False),
]
for left, xmax, dz, dv, lz, lv, name, tx, ty, lab in top_panels:
    ax = px_axes(left, 93, xmax * 2675, 480)
    profile(ax, dz, dv, DARK)
    profile(ax, lz, lv, LIGHT)
    style(ax, xmax, 4000, lab)
    fig.text(tx / W, 1 - ty / H, name, ha='center', va='center', fontsize=18.5, color='#222222')

bottom_panels = [
    (123, rc13_dark_z + rc13_dark_z2, rc13_dark_v + rc13_dark_v2,
     rc13_light_z + rc13_light_z2, rc13_light_v + rc13_light_v2, 'Rock Core 13', 370, 865, True),
    (504, d89_dark_z + d89_dark_z2, d89_dark_v + d89_dark_v2,
     d89_light_z + d89_light_z2, d89_light_v + d89_light_v2, 'Dredge 89', 755, 874, False),
    (919, d91_dark_z + d91_dark_z2, d91_dark_v + d91_dark_v2,
     d91_light_z + d91_light_z2, d91_light_v + d91_light_v2, 'Dredge 91', 1160, 870, False),
]
for left, dz, dv, lz, lv, name, tx, ty, lab in bottom_panels:
    ax = px_axes(left, 647, 0.08 * 3990, 477)
    dots(ax, dz, dv, DARK)
    dots(ax, lz, lv, LIGHT)
    style(ax, 0.08, 5000, lab)
    fig.text(tx / W, 1 - ty / H, name, ha='center', va='center', fontsize=18.5, color='#222222')

fig.text(670 / W, 1 - 22 / H, 'Light Scattering Sensor ( V)', ha='center', va='center', fontsize=17.5,
         fontweight='bold', color='#222222')
for yc in [340, 890]:
    fig.text(22 / W, 1 - yc / H, 'depth (m)', rotation=90, ha='center', va='center', fontsize=17,
             fontweight='bold', color='#222222')

# black scan borders
fig.patches.append(Rectangle((0, 1 - 9 / H), 1, 9 / H, transform=fig.transFigure, color='black', zorder=-1))
fig.patches.append(Rectangle((0, 0), 12 / W, 1, transform=fig.transFigure, color='black', zorder=-1))
fig.patches.append(Rectangle((1 - 7 / W, 0), 7 / W, 1, transform=fig.transFigure, color='black', zorder=-1))

fig.savefig('out.png', dpi=100, facecolor='white')
